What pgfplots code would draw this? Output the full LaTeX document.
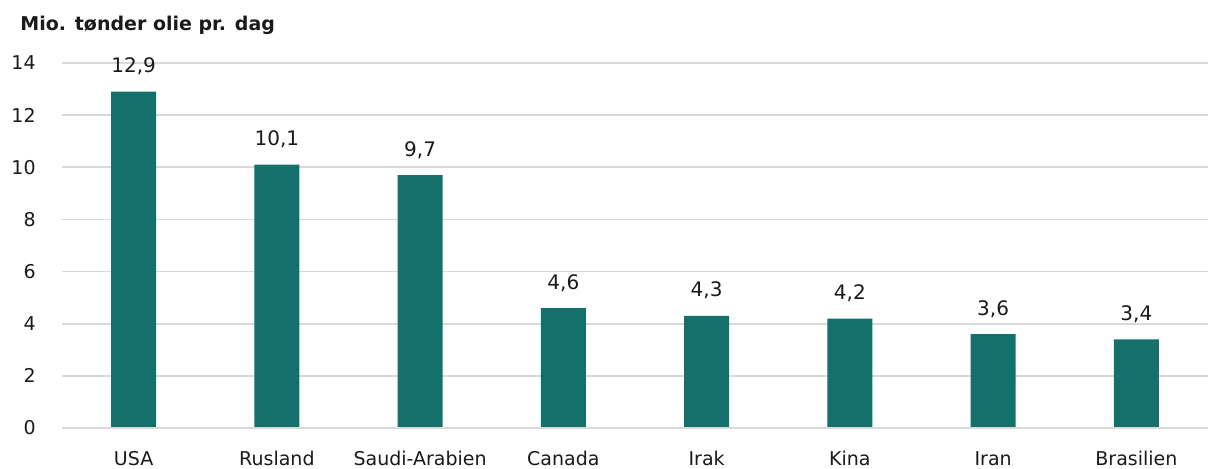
\documentclass[border=0pt]{standalone}
\usepackage{pgfplots}
\pgfplotsset{compat=1.18}
\usepackage{fontspec}
\setmainfont{DejaVu Sans}
\definecolor{barteal}{HTML}{13706A}
\definecolor{gridgray}{HTML}{D9D9D9}
\definecolor{txt}{HTML}{1A1A1A}
\begin{document}
\begin{tikzpicture}
\begin{axis}[
  at={(0,0)}, anchor=south west,
  scale only axis,
  width=573pt, height=182.5pt,
  xmin=-0.5, xmax=7.5,
  ymin=0, ymax=14,
  ytick={0,2,...,14},
  xtick=data,
  xticklabels={USA,Rusland,Saudi-Arabien,Canada,Irak,Kina,Iran,Brasilien},
  axis line style={draw=none},
  axis x line*=bottom,
  ymajorgrids,
  grid style={gridgray, line width=0.8pt},
  major tick length=0pt,
  tick label style={font=\fontsize{9.5}{11}\selectfont, text=txt},
  /pgf/number format/assume math mode=true,
  yticklabel style={anchor=east, inner sep=0pt, xshift=-13pt},
  xticklabel style={anchor=base, inner sep=0pt, yshift=-18.5pt},
  ybar, bar width=22.5pt,
  nodes near coords,
  nodes near coords style={font=\fontsize{10}{12}\selectfont, text=txt, anchor=base, inner sep=0pt, yshift=9.5pt,
    /pgf/number format/.cd, fixed, fixed zerofill, precision=1, use comma},
  clip=false,
]
\addplot[fill=barteal, draw=none] coordinates {
 (0,12.9) (1,10.1) (2,9.7) (3,4.6) (4,4.3) (5,4.2) (6,3.6) (7,3.4)
};
\draw[gridgray, line width=0.8pt] (rel axis cs:0,0) -- (rel axis cs:1,0);
\node[anchor=base west, font=\bfseries\fontsize{9.5}{11}\selectfont, text=txt, inner sep=0pt]
  at ([xshift=-21pt, yshift=16.5pt]rel axis cs:0,1) {Mio. tønder olie pr. dag};
\end{axis}
\pgfresetboundingbox
\path (-31pt,-20pt) rectangle (573pt,214pt);
\end{tikzpicture}
\end{document}
